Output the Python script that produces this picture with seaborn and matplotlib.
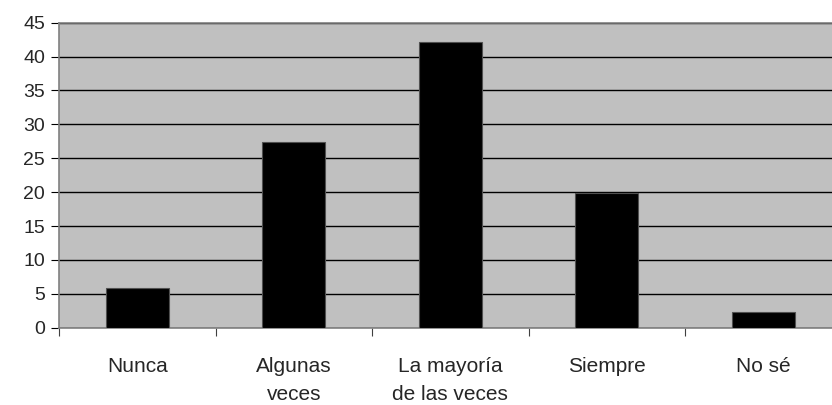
import matplotlib
matplotlib.use("Agg")
import matplotlib.pyplot as plt
import seaborn as sns
import pandas as pd
import numpy as np

categories = ["Nunca", "Algunas\nveces", "La mayoría\nde las veces", "Siempre", "No sé"]
values = [5.9, 27.4, 42.2, 19.9, 2.3]
yticks = [0, 5, 10, 15, 20, 25, 30, 35, 40, 45]

sns.set_style("white")
plt.rcParams["font.family"] = ["Liberation Sans", "DejaVu Sans"]

df = pd.DataFrame({"categoria": categories, "valor": values})

fig = plt.figure(figsize=(8.32, 4.05), dpi=100)
ax = fig.add_axes([59 / 832, 77.3 / 405, 782.5 / 832, 305 / 405])
ax.set_facecolor("#C0C0C0")

sns.barplot(data=df, x="categoria", y="valor", color="black", width=0.4,
            edgecolor="#505050", linewidth=0.8, saturation=1, ax=ax, zorder=3)

ax.set_xlim(-0.5, 4.5)
ax.set_ylim(0, 45)
ax.set_yticks(yticks)
ax.yaxis.grid(True, color="black", linewidth=1.0, zorder=1)
ax.set_axisbelow(True)
ax.set_xlabel("")
ax.set_ylabel("")

for side in ["left", "bottom", "top"]:
    ax.spines[side].set_visible(True)
    ax.spines[side].set_color("#808080")
    ax.spines[side].set_linewidth(1.2)
ax.spines["right"].set_visible(False)

ax.tick_params(axis="y", which="major", left=True, length=6, width=0.8,
               color="black", pad=4, labelsize=14)
ax.set_xticks(range(len(categories)))
ax.set_xticklabels(categories, fontsize=15, linespacing=1.6, va="top")
ax.tick_params(axis="x", which="major", bottom=False, length=0, pad=21)
ax.set_xticks(np.arange(-0.5, len(categories), 1.0), minor=True)
ax.tick_params(axis="x", which="minor", bottom=True, length=6, width=0.8, color="#404040")

fig.savefig("out.png", dpi=100)
